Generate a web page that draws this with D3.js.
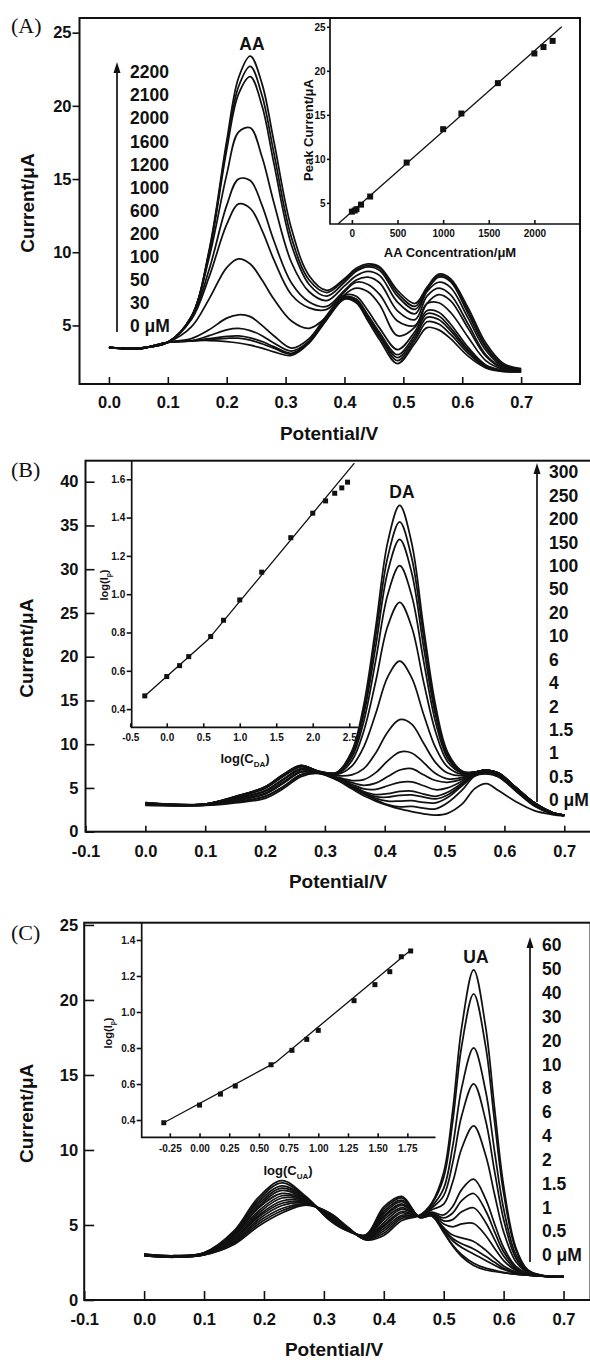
<!DOCTYPE html>
<html>
<head>
<meta charset="utf-8">
<script src="https://cdn.jsdelivr.net/npm/d3@7"></script>
<style>
body { margin: 0; background: #fff; }
text { font-family: "Liberation Sans", Arial, sans-serif; font-weight: bold; fill: #111; }
.curve { fill: none; stroke: #111; stroke-width: 1.75; }
.frame { fill: none; stroke: #111; stroke-width: 2; }
.ax line { stroke: #111; stroke-width: 1.6; }
.letter { font-family: "Liberation Serif", "Times New Roman", serif; font-weight: normal; font-size: 22px; }
</style>
</head>
<body>
<svg id="fig" width="590" height="1360"></svg>
<script>
// ---------- (A) AA ----------
const aaPotential = [0, 0.05, 0.10, 0.14, 0.17, 0.20, 0.22, 0.24, 0.26, 0.28, 0.31, 0.34, 0.37, 0.40, 0.42, 0.44, 0.46, 0.49, 0.52, 0.54, 0.56, 0.58, 0.61, 0.64, 0.67, 0.70];
const aaConc = [0, 30, 50, 100, 200, 600, 1000, 1200, 1600, 2000, 2100, 2200];
const aaCurrent = [
  [3.5, 3.4, 3.85, 3.95, 3.97, 3.9, 3.8, 3.65, 3.45, 3.2, 2.95, 3.8, 5.4, 6.8, 6.55, 5.3, 4.0, 2.4, 3.8, 4.85, 4.7, 4.1, 2.9, 2.1, 1.85, 1.85],
  [3.5, 3.4, 3.85, 3.95, 4.05, 4.12, 4.13, 4.0, 3.75, 3.45, 3.05, 3.85, 5.45, 6.85, 6.65, 5.45, 4.2, 2.6, 4.0, 5.25, 5.1, 4.4, 3.1, 2.15, 1.9, 1.85],
  [3.5, 3.4, 3.85, 3.95, 4.1, 4.25, 4.28, 4.15, 3.9, 3.55, 3.1, 3.9, 5.5, 6.9, 6.7, 5.55, 4.35, 2.8, 4.2, 5.55, 5.4, 4.65, 3.25, 2.2, 1.9, 1.85],
  [3.5, 3.4, 3.85, 3.95, 4.3, 4.7, 4.8, 4.65, 4.3, 3.8, 3.25, 3.95, 5.55, 6.95, 6.8, 5.7, 4.5, 3.0, 4.4, 5.8, 5.65, 4.85, 3.35, 2.25, 1.9, 1.85],
  [3.5, 3.4, 3.85, 4.1, 4.7, 5.5, 5.73, 5.6, 5.0, 4.3, 3.45, 4.1, 5.7, 7.05, 7.0, 6.0, 4.8, 3.35, 4.6, 6.0, 5.9, 5.1, 3.5, 2.3, 1.95, 1.9],
  [3.5, 3.45, 3.85, 4.9, 6.8, 8.95, 9.55, 9.2, 8.1, 6.8, 5.3, 4.8, 5.6, 7.1, 7.55, 7.3, 6.4, 4.3, 4.9, 6.5, 6.55, 5.9, 4.2, 2.6, 2.0, 1.9],
  [3.5, 3.45, 3.85, 5.4, 8.3, 11.9, 13.3, 13.0, 11.5, 9.5, 7.1, 6.2, 6.1, 7.3, 7.95, 7.8, 7.1, 5.3, 5.0, 6.5, 7.1, 6.7, 4.8, 2.9, 2.05, 1.95],
  [3.5, 3.45, 3.85, 5.5, 8.8, 13.2, 15.0, 14.9, 13.2, 10.8, 7.9, 6.6, 6.3, 7.4, 8.1, 8.3, 7.9, 6.0, 5.4, 7.0, 7.55, 7.1, 5.1, 3.0, 2.1, 1.95],
  [3.5, 3.45, 3.85, 5.6, 9.6, 15.3, 18.2, 18.5, 16.5, 13.4, 9.3, 7.3, 6.7, 7.7, 8.4, 8.7, 8.4, 6.6, 5.8, 7.3, 7.95, 7.6, 5.5, 3.3, 2.15, 2.0],
  [3.5, 3.45, 3.85, 5.6, 9.9, 17.0, 20.8, 22.0, 20.0, 16.1, 10.5, 7.8, 7.0, 7.95, 8.7, 9.0, 8.75, 7.0, 6.1, 7.4, 8.3, 8.0, 5.8, 3.5, 2.25, 2.0],
  [3.5, 3.45, 3.85, 5.6, 10.0, 17.3, 21.3, 22.7, 20.7, 16.8, 11.0, 8.1, 7.25, 8.1, 8.8, 9.1, 8.9, 7.2, 6.3, 7.5, 8.4, 8.1, 6.0, 3.6, 2.3, 2.0],
  [3.5, 3.45, 3.85, 5.6, 10.1, 17.6, 21.9, 23.4, 21.5, 17.6, 11.6, 8.4, 7.4, 8.2, 8.9, 9.2, 9.0, 7.4, 6.5, 7.6, 8.5, 8.2, 6.2, 3.8, 2.4, 2.05]
];
const aaXTicks = [0, 0.1, 0.2, 0.3, 0.4, 0.5, 0.6, 0.7];
const aaYTicks = [5, 10, 15, 20, 25];
const aaInsetConc = [0, 30, 50, 100, 200, 600, 1000, 1200, 1600, 2000, 2100, 2200];
const aaInsetPeak = [4.0, 4.13, 4.28, 4.8, 5.72, 9.58, 13.37, 15.15, 18.6, 21.97, 22.7, 23.4];
const aaFitConc = [-150, 2300];
const aaFitPeak = [2.62, 25.0];
const aaInsetXTicks = [0, 500, 1000, 1500, 2000];
const aaInsetYTicks = [5, 10, 15, 20, 25];

// ---------- (B) DA ----------
const daPotential = [0, 0.05, 0.1, 0.15, 0.2, 0.23, 0.26, 0.29, 0.32, 0.345, 0.365, 0.385, 0.405, 0.425, 0.445, 0.465, 0.485, 0.505, 0.53, 0.55, 0.57, 0.59, 0.62, 0.65, 0.68, 0.70];
const daConc = [0, 0.5, 1, 1.5, 2, 4, 6, 10, 20, 50, 100, 150, 200, 250, 300];
const daCurrent = [
  [3.0, 2.95, 3.0, 3.3, 3.8, 4.9, 6.3, 6.65, 5.9, 4.9, 4.1, 3.5, 3.0, 2.6, 2.3, 2.05, 1.9, 2.1, 3.2, 4.9, 5.5, 4.7, 3.4, 2.4, 1.95, 1.8],
  [3.08, 2.98, 3.03, 3.4, 4.0, 5.1, 6.5, 6.7, 5.95, 5.05, 4.3, 3.65, 3.1, 2.85, 2.9, 2.7, 2.6, 3.3, 4.8, 6.35, 6.6, 6.25, 4.6, 2.95, 2.05, 1.85],
  [3.1, 3.0, 3.04, 3.42, 4.05, 5.15, 6.52, 6.7, 6.0, 5.15, 4.4, 3.8, 3.5, 3.5, 3.55, 3.35, 3.3, 3.9, 5.3, 6.4, 6.65, 6.3, 4.62, 2.97, 2.06, 1.85],
  [3.15, 3.02, 3.07, 3.55, 4.3, 5.5, 6.8, 6.75, 6.0, 5.2, 4.5, 4.0, 3.95, 4.15, 4.2, 3.95, 3.75, 4.2, 5.45, 6.55, 6.8, 6.45, 4.75, 3.05, 2.1, 1.85],
  [3.16, 3.03, 3.08, 3.57, 4.33, 5.55, 6.83, 6.75, 6.05, 5.25, 4.6, 4.25, 4.35, 4.6, 4.65, 4.3, 4.05, 4.5, 5.6, 6.57, 6.82, 6.47, 4.77, 3.06, 2.1, 1.85],
  [3.18, 3.04, 3.09, 3.6, 4.4, 5.65, 6.9, 6.77, 6.1, 5.4, 4.9, 4.85, 5.25, 5.65, 5.7, 5.25, 4.8, 5.0, 5.8, 6.65, 6.9, 6.55, 4.85, 3.15, 2.15, 1.88],
  [3.22, 3.05, 3.1, 3.75, 4.6, 5.9, 7.1, 6.8, 6.17, 5.6, 5.3, 5.55, 6.3, 7.05, 7.2, 6.5, 5.85, 5.65, 6.0, 6.67, 6.92, 6.57, 4.87, 3.17, 2.15, 1.88],
  [3.23, 3.06, 3.11, 3.78, 4.65, 5.95, 7.15, 6.82, 6.25, 5.85, 5.95, 6.75, 8.1, 9.1, 9.0, 7.9, 6.65, 6.05, 6.2, 6.75, 7.0, 6.65, 4.95, 3.25, 2.2, 1.9],
  [3.25, 3.07, 3.12, 3.8, 4.7, 6.0, 7.2, 6.83, 6.4, 6.5, 7.2, 9.0, 11.4, 12.8, 12.3, 10.1, 7.9, 6.7, 6.4, 6.77, 7.02, 6.67, 4.97, 3.27, 2.2, 1.9],
  [3.28, 3.08, 3.14, 3.9, 4.95, 6.3, 7.4, 6.85, 6.55, 7.5, 9.7, 13.5, 17.7, 19.5, 17.6, 13.4, 9.6, 7.4, 6.55, 6.8, 7.05, 6.7, 5.0, 3.3, 2.2, 1.9],
  [3.29, 3.09, 3.14, 3.92, 5.0, 6.35, 7.45, 6.86, 6.6, 8.1, 11.5, 17.2, 23.5, 26.2, 23.4, 17.1, 11.4, 8.0, 6.7, 6.8, 7.05, 6.7, 5.0, 3.3, 2.2, 1.9],
  [3.3, 3.1, 3.15, 3.95, 5.05, 6.4, 7.5, 6.88, 6.65, 8.5, 12.6, 19.6, 27.1, 30.4, 27.0, 19.5, 12.5, 8.4, 6.75, 6.8, 7.05, 6.7, 5.0, 3.3, 2.2, 1.9],
  [3.3, 3.1, 3.15, 4.0, 5.1, 6.5, 7.55, 6.9, 6.7, 8.8, 13.4, 21.2, 29.7, 33.4, 29.6, 21.1, 13.3, 8.7, 6.8, 6.8, 7.05, 6.7, 5.0, 3.3, 2.2, 1.9],
  [3.31, 3.11, 3.16, 4.0, 5.1, 6.5, 7.56, 6.9, 6.75, 9.0, 13.9, 22.4, 31.4, 35.4, 31.3, 22.3, 13.8, 8.9, 6.85, 6.8, 7.05, 6.7, 5.0, 3.3, 2.2, 1.9],
  [3.32, 3.12, 3.16, 4.02, 5.12, 6.52, 7.57, 6.9, 6.8, 9.2, 14.5, 23.4, 33.1, 37.3, 33.0, 23.3, 14.4, 9.1, 6.9, 6.8, 7.05, 6.7, 5.0, 3.3, 2.2, 1.9]
];
const daXTicks = [-0.1, 0, 0.1, 0.2, 0.3, 0.4, 0.5, 0.6, 0.7];
const daYTicks = [0, 5, 10, 15, 20, 25, 30, 35, 40];
const daInsetLogC = [-0.301, 0, 0.176, 0.301, 0.602, 0.778, 1.0, 1.301, 1.699, 2.0, 2.176, 2.301, 2.398, 2.477];
const daInsetLogI = [0.469, 0.57, 0.627, 0.674, 0.779, 0.864, 0.97, 1.115, 1.295, 1.423, 1.487, 1.527, 1.555, 1.585];
const daFitLogC = [-0.301, 0.567, 2.57];
const daFitLogI = [0.468, 0.763, 1.684];
const daInsetXTicks = [-0.5, 0, 0.5, 1.0, 1.5, 2.0, 2.5];
const daInsetYTicks = [0.4, 0.6, 0.8, 1.0, 1.2, 1.4, 1.6];

// ---------- (C) UA ----------
const uaPotential = [0, 0.05, 0.1, 0.15, 0.19, 0.23, 0.27, 0.31, 0.34, 0.37, 0.40, 0.43, 0.46, 0.48, 0.50, 0.515, 0.53, 0.55, 0.57, 0.585, 0.60, 0.62, 0.64, 0.67, 0.70];
const uaConc = [0, 0.5, 1, 1.5, 2, 4, 6, 8, 10, 20, 30, 40, 50, 60];
const uaCurrent = [
  [3.05, 2.95, 3.15, 4.6, 6.8, 7.95, 6.9, 5.3, 4.6, 4.35, 6.2, 6.9, 5.5, 5.6, 4.5, 3.6, 2.9, 2.3, 2.0, 1.9, 1.8, 1.72, 1.65, 1.58, 1.55],
  [3.05, 2.95, 3.14, 4.5, 6.65, 7.8, 6.85, 5.35, 4.6, 4.3, 6.05, 6.8, 5.5, 5.61, 4.53, 3.67, 3.02, 2.45, 2.12, 1.98, 1.84, 1.73, 1.65, 1.58, 1.55],
  [3.04, 2.94, 3.13, 4.45, 6.5, 7.6, 6.8, 5.4, 4.65, 4.3, 5.9, 6.65, 5.5, 5.63, 4.66, 3.95, 3.5, 3.07, 2.63, 2.32, 2.03, 1.79, 1.66, 1.58, 1.55],
  [3.03, 2.93, 3.12, 4.4, 6.35, 7.45, 6.75, 5.4, 4.65, 4.25, 5.75, 6.55, 5.53, 5.65, 4.72, 4.1, 3.75, 3.4, 2.91, 2.51, 2.12, 1.82, 1.67, 1.58, 1.55],
  [3.02, 2.92, 3.1, 4.3, 6.2, 7.3, 6.7, 5.45, 4.7, 4.25, 5.6, 6.4, 5.55, 5.67, 4.82, 4.33, 4.14, 3.9, 3.32, 2.78, 2.27, 1.87, 1.68, 1.58, 1.55],
  [3.01, 2.91, 3.09, 4.25, 6.1, 7.1, 6.7, 5.5, 4.7, 4.2, 5.5, 6.3, 5.56, 5.72, 5.07, 4.88, 5.07, 5.1, 4.3, 3.44, 2.63, 1.98, 1.7, 1.59, 1.55],
  [3.0, 2.9, 3.08, 4.2, 5.9, 6.95, 6.65, 5.55, 4.7, 4.2, 5.35, 6.15, 5.57, 5.77, 5.28, 5.36, 5.88, 6.15, 5.17, 4.02, 2.94, 2.07, 1.72, 1.58, 1.55],
  [2.99, 2.89, 3.07, 4.1, 5.75, 6.8, 6.6, 5.55, 4.75, 4.15, 5.15, 6.05, 5.58, 5.81, 5.47, 5.8, 6.62, 7.1, 5.95, 4.54, 3.22, 2.16, 1.74, 1.58, 1.55],
  [2.99, 2.89, 3.06, 4.05, 5.6, 6.6, 6.55, 5.6, 4.75, 4.15, 5.0, 5.9, 5.59, 5.85, 5.67, 6.23, 7.36, 8.05, 6.73, 5.06, 3.5, 2.25, 1.76, 1.59, 1.55],
  [2.98, 2.88, 3.05, 4.0, 5.5, 6.45, 6.5, 5.65, 4.78, 4.1, 4.9, 5.8, 5.6, 6.01, 6.39, 7.86, 10.1, 11.6, 9.65, 7.02, 4.54, 2.58, 1.83, 1.59, 1.55],
  [2.97, 2.87, 3.03, 3.9, 5.35, 6.3, 6.45, 5.7, 4.8, 4.08, 4.75, 5.65, 5.62, 6.13, 6.96, 9.14, 12.28, 14.4, 11.96, 8.56, 5.37, 2.83, 1.88, 1.59, 1.55],
  [2.96, 2.86, 3.02, 3.85, 5.2, 6.1, 6.4, 5.75, 4.8, 4.05, 4.6, 5.55, 5.63, 6.24, 7.44, 10.24, 14.14, 16.8, 13.93, 9.88, 6.08, 3.05, 1.93, 1.59, 1.55],
  [2.96, 2.86, 3.01, 3.77, 5.05, 5.95, 6.38, 5.78, 4.83, 4.03, 4.45, 5.43, 5.64, 6.4, 8.17, 11.89, 16.93, 20.4, 16.9, 11.86, 7.14, 3.39, 1.99, 1.6, 1.55],
  [2.95, 2.85, 3.0, 3.7, 4.9, 5.8, 6.33, 5.8, 4.85, 4.0, 4.3, 5.3, 5.65, 6.47, 8.5, 12.62, 18.17, 22.0, 18.2, 12.74, 7.61, 3.53, 2.02, 1.6, 1.55]
];
const uaXTicks = [-0.1, 0, 0.1, 0.2, 0.3, 0.4, 0.5, 0.6, 0.7];
const uaYTicks = [0, 5, 10, 15, 20, 25];
const uaInsetLogC = [-0.301, 0, 0.176, 0.301, 0.602, 0.778, 0.903, 1.0, 1.301, 1.477, 1.602, 1.699, 1.778];
const uaInsetLogI = [0.385, 0.483, 0.544, 0.589, 0.707, 0.787, 0.848, 0.898, 1.063, 1.152, 1.224, 1.307, 1.339];
const uaFitLogC = [-0.301, 0.64, 1.78];
const uaFitLogI = [0.385, 0.72, 1.345];
const uaInsetXTicks = [-0.25, 0, 0.25, 0.5, 0.75, 1.0, 1.25, 1.5, 1.75];
const uaInsetYTicks = [0.4, 0.6, 0.8, 1.0, 1.2, 1.4];

const svg = d3.select('#fig');

function styleAxis(g, size) {
  g.select('.domain').remove();
  g.selectAll('text').attr('font-size', size).attr('fill', '#111')
    .style('font-family', '"Liberation Sans", Arial, sans-serif').style('font-weight', 'bold');
  g.attr('class', 'ax');
}

function mainPanel(p) {
  const x = d3.scaleLinear().domain(p.xDomain).range([p.left, p.right]);
  const y = d3.scaleLinear().domain(p.yDomain).range([p.bottom, p.top]);
  const line = d3.line()
    .x((d, i) => x(p.potential[i]))
    .y(d => y(d))
    .curve(d3.curveCatmullRom.alpha(0.5));
  svg.append('g').selectAll('path').data(p.current).join('path')
    .attr('class', 'curve').attr('d', line);

  svg.append('g').attr('transform', `translate(0,${p.bottom})`)
    .call(d3.axisBottom(x).tickValues(p.xTicks).tickSize(p.xTick).tickPadding(p.xPad)
      .tickFormat(d => d.toFixed(1)))
    .call(g => styleAxis(g, 16.5));
  svg.append('g').attr('transform', `translate(${p.left},0)`)
    .call(d3.axisLeft(y).tickValues(p.yTicks).tickSize(p.yTick).tickPadding(p.yPad))
    .call(g => styleAxis(g, 16.5));

  svg.append('rect').attr('class', 'frame')
    .attr('x', p.left).attr('y', p.top)
    .attr('width', p.right - p.left).attr('height', p.bottom - p.top);

  svg.append('text').attr('x', p.titleX).attr('y', p.titleY)
    .attr('text-anchor', 'middle').attr('font-size', 19).text('Potential/V');
  svg.append('text').attr('transform', `translate(${p.ylabX},${(p.top + p.bottom) / 2 + 2}) rotate(-90)`)
    .attr('text-anchor', 'middle').attr('dy', '0.35em').attr('font-size', 19).text('Current/μA');
  svg.append('text').attr('class', 'letter').attr('x', 11).attr('y', p.letterY).text(p.letter);
  svg.append('text').attr('x', p.nameX).attr('y', p.nameY).attr('text-anchor', 'middle')
    .attr('font-size', 17.5).text(p.name);

  // concentration list with arrow
  const labels = p.conc.slice().reverse().map((c, i, a) => i === a.length - 1 ? c + ' μM' : String(c));
  const ly = d3.scalePoint().domain(d3.range(labels.length)).range([p.legTop, p.legBottom]);
  svg.append('g').selectAll('text').data(labels).join('text')
    .attr('x', p.legX).attr('y', (d, i) => ly(i)).attr('dy', '0.36em')
    .attr('font-size', 17.5).text(d => d);
  svg.append('line').attr('x1', p.arrowX).attr('x2', p.arrowX)
    .attr('y1', p.arrowBottom).attr('y2', p.arrowTip + 8)
    .attr('stroke', '#111').attr('stroke-width', 1.7);
  svg.append('path')
    .attr('d', `M${p.arrowX},${p.arrowTip}L${p.arrowX - 3.5},${p.arrowTip + 11}L${p.arrowX + 3.5},${p.arrowTip + 11}Z`)
    .attr('fill', '#111');
}

function insetPanel(p) {
  const x = d3.scaleLinear().domain(p.xDomain).range([p.left, p.right]);
  const y = d3.scaleLinear().domain(p.yDomain).range([p.bottom, p.top]);
  svg.append('g').attr('transform', `translate(0,${p.bottom})`)
    .call(d3.axisBottom(x).tickValues(p.xTicks).tickSize(-4).tickPadding(p.xPad).tickFormat(p.xFmt))
    .call(g => styleAxis(g, 10));
  svg.append('g').attr('transform', `translate(${p.left},0)`)
    .call(d3.axisLeft(y).tickValues(p.yTicks).tickSize(p.yTick).tickPadding(1.5).tickFormat(p.yFmt))
    .call(g => styleAxis(g, 10));
  svg.append('path')
    .attr('d', `M${p.left},${p.top}V${p.bottom}H${p.right}` + (p.closed ? `V${p.top}` : ''))
    .attr('fill', 'none').attr('stroke', '#111').attr('stroke-width', 1.7);

  const fit = p.fitX.map((v, i) => [x(v), y(p.fitY[i])]);
  svg.append('path').attr('d', d3.line()(fit))
    .attr('fill', 'none').attr('stroke', '#111').attr('stroke-width', 1.3);
  svg.append('g').selectAll('rect').data(p.ptX).join('rect')
    .attr('x', (d) => x(d) - p.mark / 2)
    .attr('y', (d, i) => y(p.ptY[i]) - p.mark / 2)
    .attr('width', p.mark).attr('height', p.mark).attr('fill', '#111');
}

function subLabel(x, y, base, sub, size, rotate) {
  const t = svg.append('text').attr('font-size', size).attr('text-anchor', 'middle')
    .attr('transform', `translate(${x},${y})` + (rotate ? ' rotate(-90)' : ''));
  t.append('tspan').text(base);
  t.append('tspan').attr('font-size', size * 0.62).attr('dy', size * 0.28).text(sub);
  t.append('tspan').attr('dy', -size * 0.28).text(')');
}

// ---------- panel A ----------
mainPanel({
  xDomain: [-0.05, 0.8], yDomain: [1, 26], left: 79.5, right: 580, top: 18, bottom: 384,
  potential: aaPotential, current: aaCurrent, conc: aaConc,
  xTicks: aaXTicks, yTicks: aaYTicks, xTick: -7, xPad: 12, yTick: 7, yPad: 1,
  titleX: 329, titleY: 440, ylabX: 27, letter: '(A)', letterY: 33,
  name: 'AA', nameX: 252, nameY: 50,
  legX: 130, legTop: 72, legBottom: 326, arrowX: 117, arrowTip: 62, arrowBottom: 332
});
insetPanel({
  xDomain: [-240, 2500], yDomain: [2.6, 26], left: 330, right: 580, top: 18, bottom: 224, closed: true,
  xTicks: aaInsetXTicks, yTicks: aaInsetYTicks, xFmt: d3.format('d'), yFmt: d3.format('d'),
  xPad: 6, yTick: 3,
  fitX: aaFitConc, fitY: aaFitPeak, ptX: aaInsetConc, ptY: aaInsetPeak, mark: 6
});
svg.append('text').attr('x', 450).attr('y', 257).attr('text-anchor', 'middle')
  .attr('font-size', 13).text('AA Concentration/μM');
svg.append('text').attr('transform', 'translate(308,130) rotate(-90)')
  .attr('text-anchor', 'middle').attr('dy', '0.35em').attr('font-size', 13).text('Peak Current/μA');

// ---------- panel B ----------
mainPanel({
  xDomain: [-0.1, 0.745], yDomain: [0, 42.4], left: 85.5, right: 591.2, top: 460.7, bottom: 831.7,
  potential: daPotential, current: daCurrent, conc: daConc,
  xTicks: daXTicks, yTicks: daYTicks, xTick: -6, xPad: 14, yTick: -9, yPad: 7,
  titleX: 338, titleY: 888, ylabX: 26, letter: '(B)', letterY: 477,
  name: 'DA', nameX: 402, nameY: 498,
  legX: 549, legTop: 472, legBottom: 800, arrowX: 537, arrowTip: 463, arrowBottom: 802
});
insetPanel({
  xDomain: [-0.48, 2.62], yDomain: [0.305, 1.697], left: 131.7, right: 358, top: 460.7, bottom: 727.3,
  xTicks: daInsetXTicks, yTicks: daInsetYTicks, xFmt: d => d.toFixed(1), yFmt: d => d.toFixed(1),
  xPad: 7, yTick: 5,
  fitX: daFitLogC, fitY: daFitLogI, ptX: daInsetLogC, ptY: daInsetLogI, mark: 5
});
subLabel(245, 763, 'log(C', 'DA', 13, false);
subLabel(108, 585, 'log(I', 'p', 11, true);

// ---------- panel C ----------
mainPanel({
  xDomain: [-0.1, 0.745], yDomain: [0, 25.15], left: 84.2, right: 590.5, top: 922.7, bottom: 1300,
  potential: uaPotential, current: uaCurrent, conc: uaConc,
  xTicks: uaXTicks, yTicks: uaYTicks, xTick: -9, xPad: 13, yTick: -10, yPad: 6,
  titleX: 334, titleY: 1356, ylabX: 26, letter: '(C)', letterY: 940,
  name: 'UA', nameX: 476, nameY: 963,
  legX: 542, legTop: 945, legBottom: 1255, arrowX: 530, arrowTip: 937, arrowBottom: 1262
});
insetPanel({
  xDomain: [-0.487, 1.987], yDomain: [0.304, 1.496], left: 141.7, right: 435.5, top: 922.7, bottom: 1137.3,
  xTicks: uaInsetXTicks, yTicks: uaInsetYTicks, xFmt: d => d.toFixed(2), yFmt: d => d.toFixed(1),
  xPad: 8, yTick: 5,
  fitX: uaFitLogC, fitY: uaFitLogI, ptX: uaInsetLogC, ptY: uaInsetLogI, mark: 5
});
subLabel(288, 1175, 'log(C', 'UA', 13, false);
subLabel(112, 1033, 'log(I', 'p', 11, true);
</script>
</body>
</html>
